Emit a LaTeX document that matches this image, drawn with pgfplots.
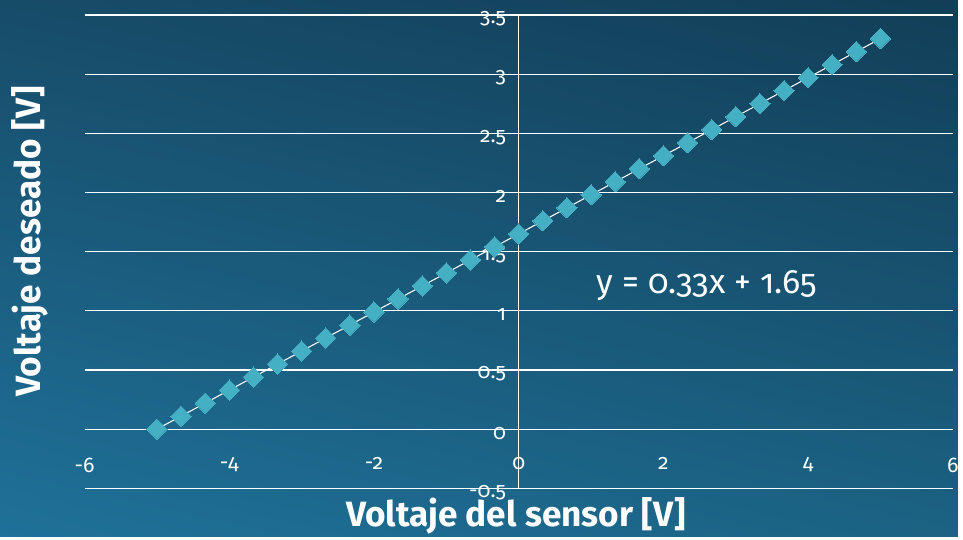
\documentclass[border=0pt]{standalone}
\usepackage{fontspec}
\setmainfont[Numbers=OldStyle]{Fira Sans}
\usepackage{pgfplots}
\pgfplotsset{compat=1.18}
\usepackage{pgfplotstable}
\usetikzlibrary{shadings}
\definecolor{bgTL}{HTML}{174C69}
\definecolor{bgTR}{HTML}{123E57}
\definecolor{bgBL}{HTML}{1F7199}
\definecolor{bgBR}{HTML}{1B6283}
\definecolor{mk}{HTML}{45B0C4}
\pgfplotstableread{
x y
-5 0
-4.667 0.11
-4.333 0.22
-4 0.33
-3.667 0.44
-3.333 0.55
-3 0.66
-2.667 0.77
-2.333 0.88
-2 0.99
-1.667 1.10
-1.333 1.21
-1 1.32
-0.667 1.43
-0.333 1.54
0 1.65
0.333 1.76
0.667 1.87
1 1.98
1.333 2.09
1.667 2.20
2 2.31
2.333 2.42
2.667 2.53
3 2.64
3.333 2.75
3.667 2.86
4 2.97
4.333 3.08
4.667 3.19
5 3.30
}\data
\pgfplotstableread{
x y
-5 0
5 3.30
}\trend
\begin{document}
\begin{tikzpicture}
\shade[upper left=bgTL, upper right=bgTR, lower left=bgBL, lower right=bgBR] (-63.75pt,-36pt) rectangle (658.5pt,368.25pt);
\begin{axis}[
  at={(0,0)}, anchor=south west,
  scale only axis, width=654.75pt, height=357pt,
  xmin=-6, xmax=6, ymin=-0.5, ymax=3.5,
  axis lines=middle,
  axis line style={white, line width=0.8pt, -},
  every inner x axis line/.append style={-},
  every inner y axis line/.append style={-},
  xtick={-6,-4,...,6}, ytick={-0.5,0,0.5,1,1.5,2,2.5,3,3.5},
  major tick length=0pt,
  hide obscured x ticks=false, hide obscured y ticks=false,
  ymajorgrids, grid style={white, line width=0.9pt},
  /pgf/number format/assume math mode=true,
  /pgf/number format/fixed,
  ticklabel style={font=\fontsize{16}{19}\selectfont, text=white},
  xticklabel style={yshift=-18pt},
  yticklabel style={xshift=-6pt, yshift=-3pt},
  xlabel={Voltaje del sensor [V]},
  ylabel={Voltaje deseado [V]},
  every axis x label/.style={at={(rel axis cs:0.497,-0.059)}, anchor=center, font=\bfseries\fontsize{26.5}{31}\selectfont, text=white},
  every axis y label/.style={at={(rel axis cs:-0.063,0.522)}, anchor=center, rotate=90, font=\bfseries\fontsize{26.5}{31}\selectfont, text=white},
  clip=false,
]
\addplot[only marks, mark=square*, mark size=5.4pt, color=mk, mark options={rotate=45, fill=mk, draw=mk, line width=0pt}] table[x=x,y=y] {\data};
\addplot[white, line width=0.8pt, no marks] table[x=x,y=y] {\trend};
\node[text=white, font=\fontsize{25.5}{30}\selectfont] at (axis cs:2.6,1.21) {y = 0.33x + 1.65};
\end{axis}
\end{tikzpicture}
\end{document}
